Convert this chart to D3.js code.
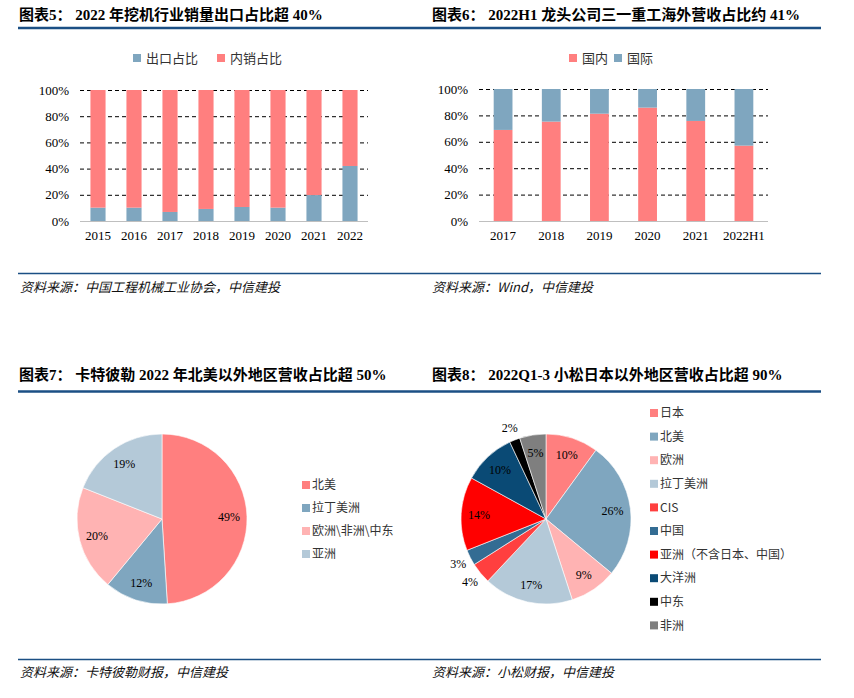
<!DOCTYPE html>
<html>
<head>
<meta charset="utf-8">
<script src="https://cdn.jsdelivr.net/npm/d3@7"></script>
<style>
  body { margin: 0; background: #fff; }
  svg { display: block; }
</style>
</head>
<body>
<div id="chart"></div>
<script>
// figure 5: excavator sales, export vs domestic share (%)
var years5 = ['2015', '2016', '2017', '2018', '2019', '2020', '2021', '2022'];
var exportShare5 = [10.2, 10.2, 6.9, 9.2, 10.7, 10.2, 19.8, 42.0];
var domesticShare5 = [89.8, 89.8, 93.1, 90.8, 89.3, 89.8, 80.2, 58.0];

// figure 6: Sany revenue, domestic vs international (%)
var years6 = ['2017', '2018', '2019', '2020', '2021', '2022H1'];
var domesticShare6 = [69.0, 75.3, 81.3, 85.9, 75.8, 57.1];
var intlShare6 = [31.0, 24.7, 18.7, 14.1, 24.2, 42.9];

var yTicks = [0, 20, 40, 60, 80, 100];

// figure 7: Caterpillar revenue by region
var regions7 = ['北美', '拉丁美洲', '欧洲\\非洲\\中东', '亚洲'];
var values7 = [49, 12, 20, 19];

// figure 8: Komatsu revenue by region
var regions8 = ['日本', '北美', '欧洲', '拉丁美洲', 'CIS', '中国', '亚洲（不含日本、中国）', '大洋洲', '中东', '非洲'];
var values8 = [10, 26, 9, 17, 4, 3, 14, 10, 2, 5];

var pink = '#FF7F7F';
var steel = '#7FA6BF';
var colors7 = [pink, steel, '#FFB3B3', '#B4C9D8'];
var colors8 = [pink, steel, '#FFB3B3', '#B4C9D8', '#FF3F3F', '#336C93', '#FF0000', '#0A4A75', '#000000', '#7F7F7F'];

var serif = '"Times New Roman", "Liberation Serif", "Noto Sans CJK SC", serif';
var sans = '"Noto Sans CJK SC", sans-serif';
var navy = '#1b4f84';

var svg = d3.select('#chart').append('svg')
    .attr('width', 854).attr('height', 698);

// ---- frame: titles, rules, sources ----
function title(x, y, txt) {
    svg.append('text')
        .attr('x', x).attr('y', y).attr('dy', '0.35em')
        .style('font-family', serif)
        .style('font-size', '15px')
        .style('font-weight', 'bold')
        .style('fill', '#000')
        .text(txt);
}
function source(x, y, txt) {
    svg.append('text')
        .attr('x', x).attr('y', y).attr('dy', '0.35em')
        .style('font-family', sans)
        .style('font-size', '13px')
        .style('font-style', 'italic')
        .style('fill', '#111')
        .text(txt);
}
function rule(y, w) {
    svg.append('line')
        .attr('x1', 18).attr('x2', 821)
        .attr('y1', y).attr('y2', y)
        .attr('stroke', navy).attr('stroke-width', w);
}

title(19, 15, '图表5：  2022 年挖机行业销量出口占比超 40%');
title(432, 15, '图表6：  2022H1 龙头公司三一重工海外营收占比约 41%');
title(19, 375, '图表7：  卡特彼勒 2022 年北美以外地区营收占比超 50%');
title(432, 375, '图表8：  2022Q1-3 小松日本以外地区营收占比超 90%');
rule(28, 2.5);
rule(273.5, 1.3);
rule(391.5, 2.5);
rule(659.5, 1.3);
source(20, 287, '资料来源：中国工程机械工业协会，中信建投');
source(432, 287, '资料来源：Wind，中信建投');
source(20, 672, '资料来源：卡特彼勒财报，中信建投');
source(432, 672, '资料来源：小松财报，中信建投');

// ---- stacked bars ----
function stackedBars(opt) {
    var rows = opt.cats.map(function (c, i) {
        var r = { cat: c };
        opt.keys.forEach(function (k, j) { r[k] = opt.series[j][i]; });
        return r;
    });
    var stacked = d3.stack().keys(opt.keys)(rows);

    var x = d3.scaleBand().domain(opt.cats)
        .range([opt.left, opt.right])
        .paddingInner(opt.pad).paddingOuter(opt.pad / 2);
    var y = d3.scaleLinear().domain([0, 100]).range([opt.bottom, opt.top]);

    var g = svg.append('g');

    var yAxis = g.append('g')
        .attr('transform', 'translate(' + opt.left + ',0)')
        .call(d3.axisLeft(y).tickValues(yTicks)
            .tickSize(-(opt.right - opt.left)).tickPadding(opt.tickPad)
            .tickFormat(function (d) { return d + '%'; }));
    yAxis.select('.domain').remove();
    yAxis.selectAll('.tick line')
        .attr('stroke', function (d) { return d === 0 ? '#bfbfbf' : '#000'; })
        .attr('stroke-dasharray', function (d) { return d === 0 ? null : '4,3'; })
        .attr('stroke-width', 1);
    yAxis.selectAll('text')
        .style('font-family', serif).style('font-size', '13px').style('fill', '#000');

    g.selectAll('g.layer')
        .data(stacked)
        .enter().append('g')
            .attr('class', 'layer')
            .style('fill', function (d, i) { return opt.colors[i]; })
        .selectAll('rect')
        .data(function (d) { return d; })
        .enter().append('rect')
            .attr('x', function (d) { return x(d.data.cat); })
            .attr('width', x.bandwidth())
            .attr('y', function (d) { return y(d[1]); })
            .attr('height', function (d) { return y(d[0]) - y(d[1]); });

    // redraw baseline over bars
    g.append('line')
        .attr('x1', opt.left).attr('x2', opt.right)
        .attr('y1', y(0) + 0.5).attr('y2', y(0) + 0.5)
        .attr('stroke', '#bfbfbf');

    var xAxis = g.append('g')
        .attr('transform', 'translate(0,' + opt.bottom + ')')
        .call(d3.axisBottom(x).tickSize(0).tickPadding(10));
    xAxis.select('.domain').remove();
    xAxis.selectAll('text')
        .style('font-family', serif).style('font-size', '13px').style('fill', '#000');

    // legend
    var lg = g.selectAll('g.legend')
        .data(opt.legend)
        .enter().append('g')
            .attr('class', 'legend')
            .attr('transform', function (d) { return 'translate(' + d.x + ',' + opt.legendY + ')'; });
    lg.append('rect')
        .attr('x', 0).attr('y', -4).attr('width', 8).attr('height', 8)
        .style('fill', function (d) { return d.color; });
    lg.append('text')
        .attr('x', 13).attr('dy', '0.35em')
        .style('font-family', sans).style('font-size', '13px').style('fill', '#333')
        .text(function (d) { return d.name; });
}

stackedBars({
    cats: years5, keys: ['export', 'domestic'],
    series: [exportShare5, domesticShare5], colors: [steel, pink],
    left: 80, right: 368, top: 90, bottom: 221, pad: 0.58, tickPad: 11,
    legendY: 58,
    legend: [{ name: '出口占比', color: steel, x: 133 }, { name: '内销占比', color: pink, x: 217 }]
});

stackedBars({
    cats: years6, keys: ['domestic', 'intl'],
    series: [domesticShare6, intlShare6], colors: [pink, steel],
    left: 479, right: 768, top: 89, bottom: 221, pad: 0.61, tickPad: 11,
    legendY: 58,
    legend: [{ name: '国内', color: pink, x: 569 }, { name: '国际', color: steel, x: 614 }]
});

// ---- pies ----
function pieChart(opt) {
    var pie = d3.pie().sort(null).value(function (d) { return d; });
    var arcs = pie(opt.values);
    var arc = d3.arc().innerRadius(0).outerRadius(opt.r);
    var inLabel = d3.arc().innerRadius(opt.r * 0.79).outerRadius(opt.r * 0.79);
    var outLabel = d3.arc().innerRadius(opt.r * 1.16).outerRadius(opt.r * 1.16);

    var g = svg.append('g')
        .attr('transform', 'translate(' + opt.cx + ',' + opt.cy + ')');

    g.selectAll('path.slice')
        .data(arcs)
        .enter().append('path')
            .attr('class', 'slice')
            .attr('d', arc)
            .style('fill', function (d, i) { return opt.colors[i]; })
            .style('stroke', '#fff')
            .style('stroke-width', 0.6);

    g.selectAll('text.pct')
        .data(arcs)
        .enter().append('text')
            .attr('class', 'pct')
            .attr('transform', function (d) {
                var c = d.data <= opt.outsideMax ? outLabel.centroid(d) : inLabel.centroid(d);
                return 'translate(' + c + ')';
            })
            .attr('dy', '0.35em')
            .style('text-anchor', 'middle')
            .style('font-family', serif).style('font-size', '12px').style('fill', '#000')
            .text(function (d) { return d.data + '%'; });

    var lg = svg.selectAll(null)
        .data(opt.names)
        .enter().append('g')
            .attr('transform', function (d, i) {
                return 'translate(' + opt.legendX + ',' + (opt.legendY + i * opt.legendStep) + ')';
            });
    lg.append('rect')
        .attr('x', 0).attr('y', -4).attr('width', 8).attr('height', 8)
        .style('fill', function (d, i) { return opt.colors[i]; });
    lg.append('text')
        .attr('x', 10).attr('dy', '0.35em')
        .style('font-family', sans).style('font-size', '12px').style('fill', '#333')
        .text(function (d) { return d; });
}

pieChart({
    values: values7, names: regions7, colors: colors7,
    cx: 162, cy: 519, r: 85, outsideMax: 0,
    legendX: 302, legendY: 485, legendStep: 23
});

pieChart({
    values: values8, names: regions8, colors: colors8,
    cx: 546, cy: 519, r: 85, outsideMax: 4,
    legendX: 650, legendY: 413, legendStep: 23.6
});
</script>
</body>
</html>
